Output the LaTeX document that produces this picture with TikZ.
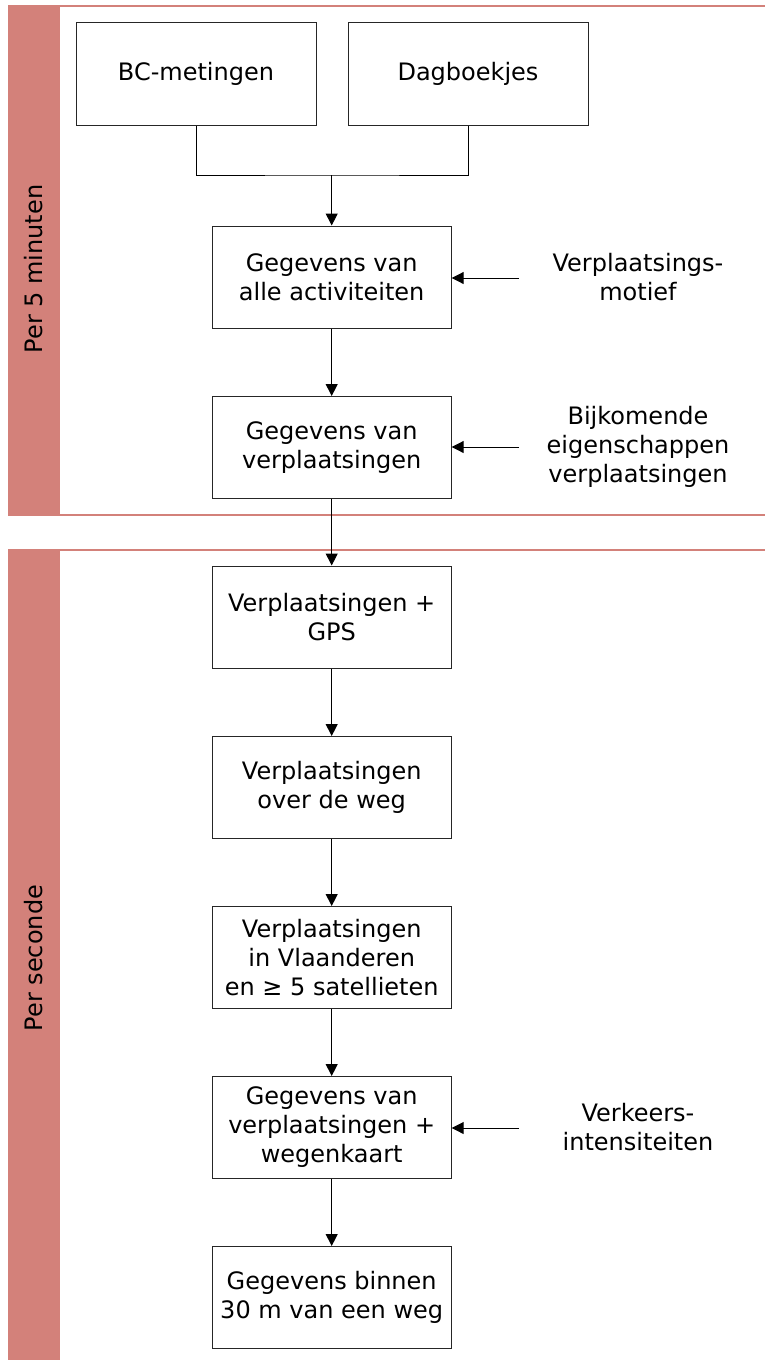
\documentclass[tikz,border=0pt]{standalone}
\usepackage{fontspec}
\setmainfont{DejaVu Sans}
\usetikzlibrary{arrows.meta}
\definecolor{band}{RGB}{211,129,122}
\begin{document}
\begin{tikzpicture}[x=1pt,y=-1pt,
  every node/.style={font=\fontsize{24}{29}\selectfont, align=center},
  stepbox/.style={draw=black!85, line width=1pt, minimum width=239pt, minimum height=102pt, inner sep=0pt},
  topbox/.style={draw=black!85, line width=1pt, minimum width=240pt, minimum height=103pt, inner sep=0pt},
  conn/.style={line width=1pt, black},
  arr/.style={conn, -{Triangle[length=12pt,width=12pt]}},
  bandline/.style={draw=band, line width=1.2pt},
  label/.style={inner sep=0pt}]
\useasboundingbox (0,0) rectangle (765,1360);
% bands
\fill[band] (8,5) rectangle (60,516);
\draw[bandline] (60,6) -- (765,6);
\draw[bandline] (60,515) -- (765,515);
\fill[band] (8,549) rectangle (60,1360);
\draw[bandline] (60,550) -- (765,550);
\node[rotate=90, label] (p5) at (34,269) {Per 5 minuten};
\node[rotate=90, label] (ps) at (34,958) {Per seconde};
% top boxes
\node[topbox] (bc) at (196,73.5) {BC-metingen};
\node[topbox] (dag) at (468,73.5) {Dagboekjes};
% chain
\node[stepbox] (b1) at (331.7,277) {Gegevens van\\alle activiteiten};
\node[stepbox] (b2) at (331.7,447.5) {Gegevens van\\verplaatsingen};
\node[stepbox] (b3) at (331.7,617) {Verplaatsingen +\\GPS};
\node[stepbox] (b4) at (331.7,787.5) {Verplaatsingen\\over de weg};
\node[stepbox] (b5) at (331.7,957.5) {Verplaatsingen\\in Vlaanderen\\en ≥ 5 satellieten};
\node[stepbox] (b6) at (331.7,1127.5) {Gegevens van\\verplaatsingen +\\wegenkaart};
\node[stepbox] (b7) at (331.7,1297.5) {Gegevens binnen\\30 m van een weg};
% side inputs
\node[label] (s1) at (638,277) {Verplaatsings-\\motief};
\node[label] (s2) at (638,447) {Bijkomende\\eigenschappen\\verplaatsingen};
\node[label] (s3) at (638,1127) {Verkeers-\\intensiteiten};
\coordinate (s1e) at (519,278);
\coordinate (s2e) at (519,447);
\coordinate (s3e) at (519,1128);
% connectors
\coordinate (j) at (331.7,175);
\draw[conn] (bc.south) |- (j) -| (dag.south);
\draw[arr] (j) -- (b1.north);
\draw[arr] (b1) -- (b2);
\draw[arr] (b2) -- (b3);
\draw[arr] (b3) -- (b4);
\draw[arr] (b4) -- (b5);
\draw[arr] (b5) -- (b6);
\draw[arr] (b6) -- (b7);
\draw[arr] (s1e) -- (b1.east |- s1e);
\draw[arr] (s2e) -- (b2.east |- s2e);
\draw[arr] (s3e) -- (b6.east |- s3e);
\end{tikzpicture}
\end{document}
